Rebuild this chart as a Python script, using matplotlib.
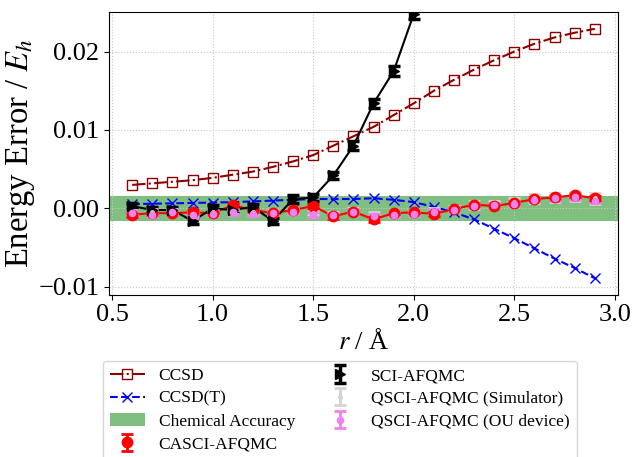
import matplotlib
matplotlib.use("Agg")
import matplotlib.pyplot as plt

plt.rcParams['font.family'] = 'serif'
plt.rcParams['font.serif'] = ['Liberation Serif', 'DejaVu Serif']
plt.rcParams['mathtext.fontset'] = 'stix'

# bond length (Angstrom)
r = [0.6, 0.7, 0.8, 0.9, 1.0, 1.1, 1.2, 1.3, 1.4, 1.5, 1.6, 1.7,
     1.8, 1.9, 2.0, 2.1, 2.2, 2.3, 2.4, 2.5, 2.6, 2.7, 2.8, 2.9]

# energy errors (Hartree)
ccsd = [0.0030, 0.0032, 0.0034, 0.0036, 0.0039, 0.0043, 0.0047, 0.0053,
        0.0060, 0.0068, 0.0080, 0.0092, 0.0104, 0.0119, 0.0134, 0.0150,
        0.0164, 0.0177, 0.0189, 0.0200, 0.0210, 0.0218, 0.0224, 0.0229]
ccsd_t = [0.00055, 0.0006, 0.00065, 0.0007, 0.00075, 0.0008, 0.0009, 0.0010,
          0.0011, 0.0012, 0.0012, 0.0012, 0.0013, 0.0011, 0.0008, 0.0002,
          -0.0005, -0.0014, -0.0026, -0.0038, -0.0051, -0.0064, -0.0076, -0.0089]

r_sci = [0.6, 0.7, 0.8, 0.9, 1.0, 1.1, 1.2, 1.3, 1.4, 1.5, 1.6, 1.7, 1.8, 1.9, 2.0]
sci = [0.0003, -0.0002, -0.0002, -0.0016, 0.0000, -0.0002, 0.0002, -0.0016,
       0.0012, 0.0014, 0.0042, 0.0080, 0.0134, 0.0175, 0.0248]
sci_err = [0.0004, 0.0004, 0.0004, 0.0004, 0.0004, 0.0004, 0.0004, 0.0004,
           0.0005, 0.0005, 0.0005, 0.0006, 0.0006, 0.0006, 0.0006]

casci = [-0.0008, -0.0006, -0.0006, -0.0005, -0.0006, 0.0004, -0.0002, -0.0006,
         -0.0002, 0.0003, -0.0010, -0.0004, -0.0014, -0.0006, -0.0005, -0.0007,
         -0.0001, 0.0005, 0.0003, 0.0007, 0.0012, 0.0014, 0.0017, 0.0013]
casci_err = [0.0003] * 24

qsci_sim = [-0.0005, -0.0004, -0.0004, -0.0007, -0.0005, -0.0004, -0.0005, -0.0005,
            -0.0003, -0.0006, -0.0008, -0.0003, -0.0009, -0.0007, -0.0006, -0.0003,
            -0.0001, 0.0004, 0.0005, 0.0008, 0.0013, 0.0014, 0.0015, 0.0013]
qsci_sim_err = [0.0003, 0.0003, 0.0003, 0.0003, 0.0003, 0.0003, 0.0003, 0.0003,
                0.0003, 0.0003, 0.0003, 0.0003, 0.0004, 0.0004, 0.0004, 0.0004,
                0.0004, 0.0005, 0.0005, 0.0005, 0.0006, 0.0006, 0.0006, 0.0007]

qsci_ou = [-0.0006, -0.0008, -0.0005, -0.0009, -0.0007, -0.0005, -0.0007, -0.0006,
           -0.0004, -0.0008, -0.0009, -0.0004, -0.0010, -0.0008, -0.0007, -0.0004,
           -0.0002, 0.0003, 0.0004, 0.0006, 0.0011, 0.0013, 0.0014, 0.0010]
qsci_ou_err = [0.0003] * 24

chem_acc = 0.0016

fig = plt.figure(figsize=(6.32, 4.57), dpi=100)
ax = fig.add_axes([0.1725, 0.3551, 0.8053, 0.6179])

ax.plot(r, ccsd, color='darkred', linestyle='-.', marker='s', mfc='none',
        markersize=7.5, linewidth=1.5, label='CCSD')
ax.plot(r, ccsd_t, color='blue', linestyle='--', marker='x',
        markersize=7.5, linewidth=1.5, label='CCSD(T)')
ax.axhspan(-chem_acc, chem_acc, color='green', alpha=0.5, lw=0, label='Chemical Accuracy')

# connecting lines drawn separately so the legend shows only the error bars
ax.plot(r, casci, color='red', linewidth=1.5)
ax.plot(r_sci, sci, color='black', linewidth=1.5)

ax.errorbar(r, casci, yerr=casci_err, fmt='o', color='red', markersize=7.5,
            capsize=4, elinewidth=2, capthick=2, label='CASCI-AFQMC')
ax.errorbar(r_sci, sci, yerr=sci_err, fmt='>', color='black', markersize=7,
            capsize=4, elinewidth=2.5, capthick=2.5, label='SCI-AFQMC')
ax.errorbar(r, qsci_sim, yerr=qsci_sim_err, fmt='.', color='lightgray', markersize=5,
            capsize=4, elinewidth=2, capthick=2, label='QSCI-AFQMC (Simulator)')
ax.errorbar(r, qsci_ou, yerr=qsci_ou_err, fmt='.', color='violet', markersize=9,
            capsize=4, elinewidth=2, capthick=2, label='QSCI-AFQMC (OU device)')

ax.set_ylim(-0.011, 0.025)
ax.set_yticks([-0.01, 0.0, 0.01, 0.02])
ax.set_xticks([0.5, 1.0, 1.5, 2.0, 2.5, 3.0])
ax.grid(linestyle=':', color='#c8c8c8')
ax.tick_params(labelsize=19)
ax.set_xlabel('$r$ / Å', fontsize=19, labelpad=2)
ax.set_ylabel('Energy Error / $E_h$', fontsize=23.5, labelpad=1)

fig.legend(loc='upper left', bbox_to_anchor=(103 / 632, 1 - 361 / 457),
           borderaxespad=0, ncol=2, fontsize=12.5, labelspacing=0.38,
           columnspacing=1.6)

fig.savefig('out.png', dpi=100)
